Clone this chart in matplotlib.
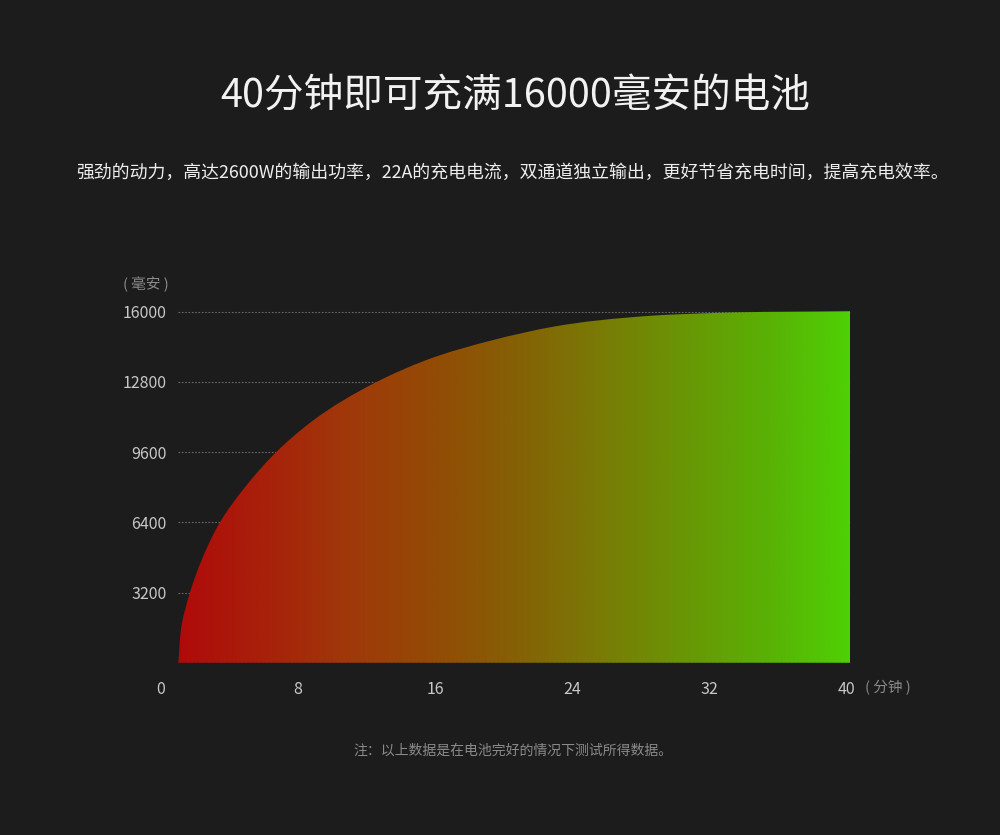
import matplotlib
matplotlib.use("Agg")
import matplotlib.pyplot as plt
import numpy as np
from matplotlib.colors import LinearSegmentedColormap
from matplotlib.path import Path
from matplotlib.patches import PathPatch

plt.rcParams['font.family'] = ['Noto Sans CJK SC', 'DejaVu Sans']

# charge curve (minutes, mAh)
minutes = [1.01, 1.21, 1.69, 2.37, 3.44, 5.0, 6.59, 8.8, 12.58, 15.49,
           19.38, 22.87, 28.3, 32.2, 40.2]
capacity = [0, 1750, 3200, 4680, 6400, 8100, 9500, 11000, 12800, 13800,
            14710, 15315, 15800, 15940, 16020]

y_ticks = [3200, 6400, 9600, 12800, 16000]
x_ticks = [0, 8, 16, 24, 32, 40]

title = "40分钟即可充满16000毫安的电池"
subtitle = "强劲的动力，高达2600W的输出功率，22A的充电电流，双通道独立输出，更好节省充电时间，提高充电效率。"
note = "注：以上数据是在电池完好的情况下测试所得数据。"

bg = "#1c1c1c"
grad_colors = ["#b00a0a", "#a8200a", "#a0380a", "#944a05", "#856005",
               "#7a7a05", "#6a9505", "#5ab005", "#4fd005"]
cmap = LinearSegmentedColormap.from_list("charge", grad_colors)


def smooth_path(xs, ys, sx=17.15, sy=0.02194):
    # smooth bezier through the points (bessel tangents, chord-length spacing,
    # measured in screen-like units so both axes count the same)
    pts = np.column_stack([xs * sx, ys * sy])
    n = len(pts)
    d = np.linalg.norm(np.diff(pts, axis=0), axis=1)
    slopes = np.diff(pts, axis=0) / d[:, None]
    tang = np.zeros_like(pts)
    tang[0] = slopes[0]
    tang[-1] = slopes[-1]
    for i in range(1, n - 1):
        tang[i] = (d[i] * slopes[i - 1] + d[i - 1] * slopes[i]) / (d[i - 1] + d[i])
    verts = [tuple(pts[0])]
    codes = [Path.MOVETO]
    for i in range(n - 1):
        c1 = pts[i] + tang[i] * d[i] / 3
        c2 = pts[i + 1] - tang[i + 1] * d[i] / 3
        verts += [tuple(c1), tuple(c2), tuple(pts[i + 1])]
        codes += [Path.CURVE4] * 3
    verts = [(vx / sx, vy / sy) for vx, vy in verts]
    verts += [(xs[-1], 0), (xs[0], 0), (xs[0], 0)]
    codes += [Path.LINETO, Path.LINETO, Path.CLOSEPOLY]
    return Path(verts, codes)


fig = plt.figure(figsize=(10, 8.35), dpi=100, facecolor=bg)
ax = fig.add_axes([0.161, 0.2063, 0.703, 0.4467])
ax.set_facecolor(bg)

# dotted grid lines
for v in y_ticks:
    ax.hlines(v, minutes[0], minutes[-1], colors="#6a6a6a", linestyles=(0, (1.5, 1.5)), lw=0.8, zorder=1)
ax.hlines(0, minutes[0], minutes[-1], colors="#8a8a8a", linestyles=(0, (1.5, 1.5)), lw=1.0, zorder=1)

# gradient-filled area under the curve
xs = np.array(minutes, dtype=float)
ys = np.array(capacity, dtype=float)
clip = PathPatch(smooth_path(xs, ys), facecolor="none", edgecolor="none")
ax.add_patch(clip)
grad = np.linspace(0, 1, 256).reshape(1, -1)
im = ax.imshow(grad, cmap=cmap, aspect="auto", extent=[xs[0], xs[-1], 0, ys.max() + 200],
               origin="lower", zorder=2, interpolation="bilinear")
im.set_clip_path(clip)
ax.set_xlim(0, 41)
ax.set_ylim(0, 17000)

for s in ax.spines.values():
    s.set_visible(False)
ax.set_yticks(y_ticks)
ax.set_yticklabels([str(v) for v in y_ticks])
ax.set_xticks(x_ticks)
ax.set_xticklabels([str(v) for v in x_ticks])
ax.tick_params(axis="y", length=0, pad=-4, labelsize=11.5, labelcolor="#c8c8c8")
ax.tick_params(axis="x", length=0, pad=13, labelsize=11.5, labelcolor="#c8c8c8")

fig.text(0.146, 0.659, "( 毫安 )", ha="center", va="center", fontsize=10.5, color="#8a8a8a")
fig.text(0.888, 0.176, "( 分钟 )", ha="center", va="center", fontsize=10.5, color="#8a8a8a")

fig.text(0.515, 0.884, title, ha="center", va="center", fontsize=28.5, color="#f2f2f2")
fig.text(0.5125, 0.793, subtitle, ha="center", va="center", fontsize=12.9, color="#eeeeee")
fig.text(0.513, 0.101, note, ha="center", va="center", fontsize=10, color="#8a8a8a")

fig.savefig("out.png", dpi=100, facecolor=bg)
